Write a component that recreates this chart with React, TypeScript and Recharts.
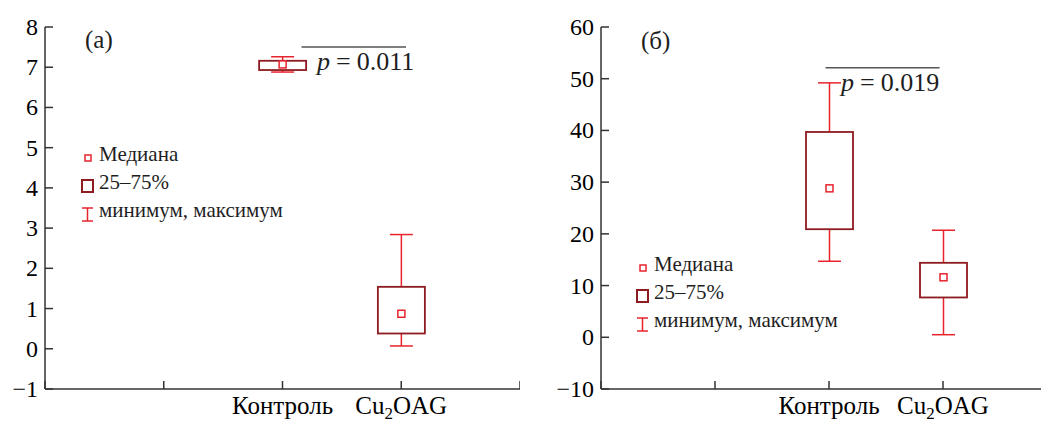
import React from 'react';
import {
  ComposedChart,
  Bar,
  XAxis,
  YAxis,
  ReferenceLine,
} from 'recharts';

// categories sit on positions 2 and 3 of a 0..4 axis
const categories = ['Контроль', 'Cu2OAG'];
const categoryPos = [2, 3];
const axisTicks = [0, 1, 2, 3, 4];

// panel (a)
const aMin = [6.88, 0.07];
const aQ1 = [6.93, 0.38];
const aMedian = [7.07, 0.87];
const aQ3 = [7.16, 1.54];
const aMax = [7.26, 2.84];
const aTicks = [-1, 0, 1, 2, 3, 4, 5, 6, 7, 8];

// panel (б)
const bMin = [14.7, 0.5];
const bQ1 = [20.9, 7.7];
const bMedian = [28.8, 11.6];
const bQ3 = [39.7, 14.4];
const bMax = [49.2, 20.7];
const bTicks = [-10, 0, 10, 20, 30, 40, 50, 60];

const legendLabels = ['Медиана', '25–75%', 'минимум, максимум'];

const SERIF = 'Liberation Serif';
const AXIS = '#333';
const BOX = '#8e1b1f';
const WHISK = '#e8232c';

function buildRows(mins, q1s, meds, q3s, maxs) {
  return categories.map((name, i) => ({
    name,
    pos: categoryPos[i],
    min: mins[i],
    q1: q1s[i],
    med: meds[i],
    q3: q3s[i],
    max: maxs[i],
  }));
}

const dataA = buildRows(aMin, aQ1, aMedian, aQ3, aMax);
const dataB = buildRows(bMin, bQ1, bMedian, bQ3, bMax);

function BoxShape(props: any) {
  const { x, y, width, height, payload } = props;
  if (!payload) return null;
  const top = Math.min(y, y + height);
  const h = Math.abs(height);
  const { min, q1, med, q3, max } = payload;
  const py = (v: number) => top + (h * (max - v)) / (max - min);
  const cx = x + width / 2;
  const cap = 11.5;
  return (
    <g>
      <line x1={cx} x2={cx} y1={py(max)} y2={py(q3)} stroke={WHISK} strokeWidth={1.5} />
      <line x1={cx} x2={cx} y1={py(q1)} y2={py(min)} stroke={WHISK} strokeWidth={1.5} />
      <line x1={cx - cap} x2={cx + cap} y1={py(max)} y2={py(max)} stroke={WHISK} strokeWidth={1.5} />
      <line x1={cx - cap} x2={cx + cap} y1={py(min)} y2={py(min)} stroke={WHISK} strokeWidth={1.5} />
      <rect
        x={x}
        y={py(q3)}
        width={width}
        height={py(q1) - py(q3)}
        fill="#fff"
        stroke={BOX}
        strokeWidth={1.8}
      />
      <rect x={cx - 3.5} y={py(med) - 3.5} width={7} height={7} fill="#fff" stroke={WHISK} strokeWidth={1.5} />
    </g>
  );
}

function XTick(props: any) {
  const { x, y, payload } = props;
  const idx = categoryPos.indexOf(payload.value);
  const label = idx >= 0 ? categories[idx] : '';
  return (
    <g>
      <line x1={x} x2={x} y1={y} y2={y - 8} stroke={AXIS} strokeWidth={1.5} />
      {label === 'Cu2OAG' ? (
        <text x={x} y={y + 25} textAnchor="middle" fontFamily={SERIF} fontSize={25}>
          Cu<tspan dy={5} fontSize={17}>2</tspan>
          <tspan dy={-5}>OAG</tspan>
        </text>
      ) : (
        <text x={x} y={y + 25} textAnchor="middle" fontFamily={SERIF} fontSize={25}>
          {label}
        </text>
      )}
    </g>
  );
}

function YTick(props: any) {
  const { x, y, payload } = props;
  const v = payload.value;
  return (
    <g>
      <line x1={x} x2={x + 8} y1={y} y2={y} stroke={AXIS} strokeWidth={1.5} />
      <text x={x - 7} y={y + 8} textAnchor="end" fontFamily={SERIF} fontSize={24}>
        {v < 0 ? `−${Math.abs(v)}` : v}
      </text>
    </g>
  );
}

function LegendIcons({ left, rows }: { left: number; rows: number[] }) {
  return (
    <g>
      <rect x={left + 3} y={rows[0] - 10} width={6} height={6} fill="#fff" stroke={WHISK} strokeWidth={1.5} />
      <rect x={left} y={rows[1] - 13} width={11} height={12} fill="#fff" stroke={BOX} strokeWidth={2} />
      <line x1={left + 5.5} x2={left + 5.5} y1={rows[2] - 13} y2={rows[2]} stroke={WHISK} strokeWidth={1.5} />
      <line x1={left} x2={left + 11} y1={rows[2] - 13} y2={rows[2] - 13} stroke={WHISK} strokeWidth={1.5} />
      <line x1={left} x2={left + 11} y1={rows[2]} y2={rows[2]} stroke={WHISK} strokeWidth={1.5} />
    </g>
  );
}

// html text placed by its baseline
function Txt({ x, base, size, children }: any) {
  return (
    <div
      style={{
        position: 'absolute',
        left: x,
        top: base - size,
        height: size,
        lineHeight: `${size}px`,
        fontFamily: SERIF,
        fontSize: size,
        color: '#1e1e1e',
        whiteSpace: 'nowrap',
        display: 'flex',
        alignItems: 'baseline',
      }}
    >
      {children}
    </div>
  );
}

function Panel({ data, ticks, width, left, yWidth, sig, pText, pPos, tag, tagPos, legendLeft, legendRows }: any) {
  return (
    <div style={{ position: 'absolute', left, top: 0, width, height: 422 }}>
      <ComposedChart
        width={width}
        height={422}
        data={data}
        margin={{ top: 27, right: 0, bottom: 0, left: 0 }}
      >
        <XAxis
          type="number"
          dataKey="pos"
          domain={[0, 4]}
          ticks={axisTicks}
          interval={0}
          height={33}
          tickSize={0}
          tickMargin={0}
          tickLine={false}
          axisLine={{ stroke: AXIS, strokeWidth: 1.5 }}
          tick={<XTick />}
        />
        <YAxis
          type="number"
          domain={[ticks[0], ticks[ticks.length - 1]]}
          ticks={ticks}
          interval={0}
          width={yWidth}
          tickSize={0}
          tickMargin={0}
          tickLine={false}
          axisLine={{ stroke: AXIS, strokeWidth: 1.5 }}
          tick={<YTick />}
        />
        <ReferenceLine
          segment={[
            { x: sig[0], y: sig[2] },
            { x: sig[1], y: sig[2] },
          ]}
          stroke="#555"
          strokeWidth={1.5}
        />
        <Bar
          dataKey={(d: any) => [d.min, d.max]}
          barSize={47}
          shape={<BoxShape />}
          isAnimationActive={false}
        />
      </ComposedChart>
      <svg width={width} height={422} style={{ position: 'absolute', left: 0, top: 0 }}>
        <LegendIcons left={legendLeft} rows={legendRows} />
      </svg>
      <Txt x={tagPos[0]} base={tagPos[1]} size={25}>{tag}</Txt>
      <Txt x={pPos[0]} base={pPos[1]} size={26}>
        <i>p</i>
        <span style={{ marginLeft: 6 }}>=</span>
        <span style={{ marginLeft: 6 }}>{pText}</span>
      </Txt>
      {legendLabels.map((l, i) => (
        <Txt key={l} x={legendLeft + 17} base={legendRows[i]} size={21}>{l}</Txt>
      ))}
    </div>
  );
}

export default function App() {
  return (
    <div
      style={{
        position: 'relative',
        marginLeft: -8,
        marginTop: -8,
        width: 1049,
        height: 422,
        overflow: 'hidden',
        fontFamily: SERIF,
      }}
    >
      <Panel
        data={dataA}
        ticks={aTicks}
        width={520}
        left={0}
        yWidth={45}
        sig={[2.16, 3.04, 7.5]}
        pText="0.011"
        pPos={[317, 75]}
        tag="(a)"
        tagPos={[85, 52]}
        legendLeft={82}
        legendRows={[165, 193, 221]}
      />
      <Panel
        data={dataB}
        ticks={bTicks}
        width={537}
        left={520}
        yWidth={81}
        sig={[1.97, 2.97, 52.1]}
        pText="0.019"
        pPos={[321, 96]}
        tag="(б)"
        tagPos={[121, 53]}
        legendLeft={117}
        legendRows={[275, 303, 331]}
      />
    </div>
  );
}
